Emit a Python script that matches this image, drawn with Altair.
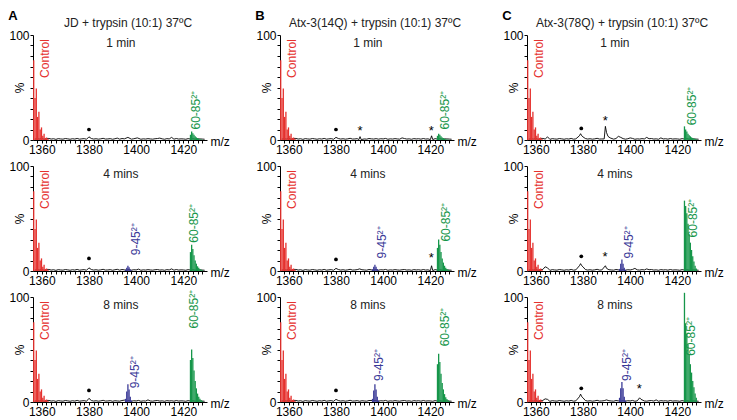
import altair as alt
import pandas as pd

FONT = "Liberation Sans"
RED = "#e5312e"
GREEN = "#16964a"
BLUE = "#3b3a98"

W, H = 174, 105
XDOM = [1356.3, 1430]

COLUMN_TITLES = ["JD + trypsin (10:1) 37ºC",
                 "Atx-3(14Q) + trypsin (10:1) 37ºC",
                 "Atx-3(78Q) + trypsin (10:1) 37ºC"]
LETTERS = ["A", "B", "C"]
TIMES = ["1 min", "4 mins", "8 mins"]
ROW_KEYS = ["1", "4", "8"]
X_TICK_VALUES = list(range(1358, 1430, 2))
Y_TICK_VALUES = [0, 10, 20, 30, 40, 50, 60, 70, 80, 90, 100]

# Control isotope cluster (same in all panels)
RED_MZ = [1356.6, 1357.15, 1357.7, 1358.25, 1358.8, 1359.35, 1359.9, 1360.45, 1361.0, 1361.55, 1362.1, 1362.65]
RED_H = [76, 40, 49, 22, 27, 10, 12, 4, 6, 2, 2.5, 1]

# 60-85 (2+) cluster
GREEN_MZ = [1423.0, 1423.5, 1424.0, 1424.5, 1425.0, 1425.5, 1426.0, 1426.5, 1427.0, 1427.5, 1428.0]
GREEN_H = {
    "A1": [5, 8, 6.5, 5, 3.5, 2.5, 1.8, 1.2, 0.8, 0.5, 0.3],
    "A4": [18, 25, 21, 15, 10, 7, 4.5, 3, 2, 1.2, 0.6],
    "A8": [40, 50, 42, 30, 20, 13, 8, 5, 3, 1.8, 1],
    "B1": [4, 6, 5, 3.5, 2.5, 1.8, 1.2, 0.8, 0.5, 0.3, 0.2],
    "B4": [22, 30, 25, 18, 12, 8, 5, 3, 2, 1.2, 0.6],
    "B8": [36, 46, 38, 27, 18, 12, 7.5, 4.5, 2.8, 1.6, 1],
    "C1": [13, 10, 8, 6, 4.5, 3.5, 2.5, 2, 1.5, 1, 0.6],
    "C4": [67, 62, 55, 45, 35, 27, 20, 14, 9, 5, 2.5],
    "C8": [104, 75, 65, 55, 45, 36, 28, 20, 14, 8, 4],
}

# 9-45 (2+) cluster
BLUE_MZ = [1395.5, 1396.0, 1396.5, 1397.0, 1397.5, 1398.0]
BLUE_H = {
    "A4": [1, 3, 5, 3.5, 1.5, 0.5],
    "A8": [3, 10, 17, 12, 5, 1.5],
    "B4": [1.5, 4, 6, 4, 2, 0.5],
    "B8": [3, 11, 17, 12, 5, 1.5],
    "C4": [2, 7, 11, 7, 3, 1],
    "C8": [4, 13, 19, 13, 5, 1.5],
}

# baseline noise of the black trace, m/z 1357 ... 1429 step 1
NOISE_START = 1357
NOISE_H = [0.8, 1.2, 0.9, 1.4, 0.7, 1.1, 1.5, 0.9, 1.2, 0.6, 1.3, 1.0, 0.8, 1.4, 1.1,
           0.7, 1.2, 0.9, 1.5, 0.8, 1.1, 1.3, 0.7, 1.0, 1.4, 0.9, 1.2, 0.8, 1.1, 1.6,
           0.9, 1.0, 1.3, 0.7, 1.2, 1.0, 0.8, 1.4, 1.1, 0.9, 1.3, 0.8, 1.2, 1.0, 1.5,
           0.7, 1.1, 0.9, 1.3, 1.0, 0.8, 1.2, 1.4, 0.9, 1.1, 0.7, 1.3, 1.0, 1.2, 0.8,
           1.4, 0.9, 1.1, 1.0, 0.7, 1.3, 0.9, 1.2, 0.8, 1.1, 1.0, 0.9, 0.7]

# small black peaks [m/z, %]
BLACK_PEAKS = {
    "A1": [[1380, 3], [1392, 1.8], [1396.5, 2.5], [1400.5, 2], [1410, 1.8], [1415, 2.5]],
    "A4": [[1380, 3], [1392, 1.6], [1401, 1.8], [1415, 2]],
    "A8": [[1380, 3.5], [1395, 1.8], [1405, 2]],
    "B1": [[1380, 2.5], [1389.7, 0.4], [1390.2, 3.2], [1390.7, 0.4], [1408, 2],
           [1420.0, 0.4], [1420.5, 4], [1421.0, 0.4]],
    "B4": [[1380, 2.5], [1390, 2], [1420.0, 0.4], [1420.5, 5], [1421.0, 0.4]],
    "B8": [[1380, 2.5], [1395.5, 1.5]],
    "C1": [[1365, 3], [1378.5, 4], [1379, 6], [1379.5, 4], [1380, 3], [1389.0, 1],
           [1389.5, 13], [1390, 7], [1390.6, 3.5], [1391.5, 2], [1395, 3.5], [1396, 2.5],
           [1400, 2], [1407, 2.5], [1413, 2]],
    "C4": [[1364, 4], [1365, 3], [1378.5, 5], [1379, 7], [1379.5, 5], [1380, 4],
           [1389.5, 5], [1390, 2.5], [1402, 2.5], [1407, 2]],
    "C8": [[1364, 3], [1365, 2.5], [1378.5, 5], [1379, 7.5], [1379.5, 5], [1380, 4],
           [1390, 2], [1404, 4], [1404.6, 2.5], [1411, 2]],
}

DOTS = {"A1": [1380, 10], "A4": [1380, 12], "A8": [1380, 11],
        "B1": [1380, 10], "B4": [1380, 11], "B8": [1380, 11],
        "C1": [1379.3, 11], "C4": [1379.3, 14], "C8": [1379.3, 13]}

STARS = {"B1": [[1390.2, 11], [1420.4, 11]], "B4": [[1420.4, 15]],
         "C1": [[1389.5, 21]], "C4": [[1389.3, 16]], "C8": [[1403.9, 15]]}

CONTROL_LABEL = [1361.3, 96]
TIME_LABEL_POS = [1393.5, 92]
GREEN_LABEL = {"A1": [1425.3, 10], "A4": [1424.5, 27], "A8": [1424.5, 70],
               "B1": [1426.0, 10], "B4": [1426.5, 28], "B8": [1426.0, 53],
               "C1": [1426.0, 14], "C4": [1426.8, 32], "C8": [1425.8, 44]}
BLUE_LABEL = {"A4": [1400.1, 15], "A8": [1399.3, 13], "B4": [1399.7, 12],
              "B8": [1398.4, 20], "C4": [1399.3, 12], "C8": [1398.5, 20]}

GREEN_TEXT = "60-85²⁺"
BLUE_TEXT = "9-45²⁺"

color_scale = alt.Scale(domain=["Control", "60-85", "9-45"], range=[RED, GREEN, BLUE])

xaxis = alt.Axis(values=X_TICK_VALUES, format="d",
                 labelExpr="datum.value % 20 == 0 ? datum.label : ''",
                 tickSize=3, labelPadding=1, labelFontSize=12, labelFont=FONT,
                 labelColor="black", labelFlush=False, grid=False,
                 domainColor="black", tickColor="black",
                 title="m/z", titleX=W + 3, titleY=1, titleAlign="left",
                 titleBaseline="middle", titleFontSize=12, titleFontWeight="normal",
                 titleFont=FONT, titleColor="black")
yaxis = alt.Axis(values=Y_TICK_VALUES,
                 labelExpr="datum.value == 0 || datum.value == 100 ? datum.label : ''",
                 tickSize=3, labelPadding=1, labelFontSize=12, labelFont=FONT,
                 labelColor="black", grid=False, domainColor="black", tickColor="black",
                 title="%", titleAngle=270, titleX=-14, titleY=H / 2,
                 titleAlign="center", titleBaseline="middle", titleFontSize=12,
                 titleFontWeight="normal", titleFont=FONT, titleColor="black")

X = alt.X("mz:Q", scale=alt.Scale(domain=XDOM, nice=False, zero=False), axis=xaxis)
Y = alt.Y("h:Q", scale=alt.Scale(domain=[0, 100], nice=False), axis=yaxis)


def panel(ci, ri):
    key = LETTERS[ci] + ROW_KEYS[ri]
    feats = BLACK_PEAKS[key]
    pts = []
    for i, v in enumerate(NOISE_H):
        mz = NOISE_START + i
        if all(abs(mz - f[0]) > 0.6 for f in feats):
            pts.append([mz, v])
    pts = sorted(pts + [list(f) for f in feats])
    black_df = pd.DataFrame(pts, columns=["mz", "h"])
    black = alt.Chart(black_df).mark_line(color="black", strokeWidth=0.9).encode(x=X, y=Y)

    sticks = []
    for mz, h in zip(RED_MZ, RED_H):
        sticks.append({"mz": mz, "h": h, "s": "Control"})
    for mz, h in zip(GREEN_MZ, GREEN_H[key]):
        sticks.append({"mz": mz, "h": h, "s": "60-85"})
    if key in BLUE_H:
        for mz, h in zip(BLUE_MZ, BLUE_H[key]):
            sticks.append({"mz": mz, "h": h, "s": "9-45"})
    rules = alt.Chart(pd.DataFrame(sticks)).mark_rule(strokeWidth=1.3).encode(
        x=X, y=Y, y2=alt.datum(0),
        color=alt.Color("s:N", scale=color_scale, legend=None))

    control = alt.Chart(pd.DataFrame([{"mz": CONTROL_LABEL[0], "h": CONTROL_LABEL[1], "t": "Control"}])).mark_text(
        angle=270, align="right", baseline="middle", fontSize=12, font=FONT, color=RED
    ).encode(x=X, y=Y, text="t:N")

    lab_rows = [{"mz": GREEN_LABEL[key][0], "h": GREEN_LABEL[key][1], "t": GREEN_TEXT, "s": "60-85"}]
    if key in BLUE_LABEL:
        lab_rows.append({"mz": BLUE_LABEL[key][0], "h": BLUE_LABEL[key][1], "t": BLUE_TEXT, "s": "9-45"})
    peak_labels = alt.Chart(pd.DataFrame(lab_rows)).mark_text(
        angle=270, align="left", baseline="middle", fontSize=12, font=FONT
    ).encode(x=X, y=Y, text="t:N", color=alt.Color("s:N", scale=color_scale, legend=None))

    time = alt.Chart(pd.DataFrame([{"mz": TIME_LABEL_POS[0], "h": TIME_LABEL_POS[1], "t": TIMES[ri]}])).mark_text(
        align="center", baseline="middle", fontSize=12, font=FONT, color="#222222"
    ).encode(x=X, y=Y, text="t:N")

    dot = alt.Chart(pd.DataFrame([{"mz": DOTS[key][0], "h": DOTS[key][1]}])).mark_circle(
        size=14, color="black", opacity=1).encode(x=X, y=Y)

    layers = [black, rules, control, peak_labels, time, dot]
    if key in STARS:
        star_df = pd.DataFrame([{"mz": s[0], "h": s[1], "t": "*"} for s in STARS[key]])
        layers.append(alt.Chart(star_df).mark_text(
            align="center", baseline="middle", fontSize=13, font=FONT, color="black", dy=3
        ).encode(x=X, y=Y, text="t:N"))

    if ri == 0:
        letter = alt.Chart(pd.DataFrame([{"t": LETTERS[ci]}])).mark_text(
            align="center", baseline="middle", fontSize=13, fontWeight="bold", font=FONT, color="black"
        ).encode(x=alt.value(-20), y=alt.value(-19), text="t:N")
        header = alt.Chart(pd.DataFrame([{"t": COLUMN_TITLES[ci]}])).mark_text(
            align="center", baseline="middle", fontSize=12, font=FONT, color="#222222"
        ).encode(x=alt.value(W / 2 + 8), y=alt.value(-12), text="t:N")
        layers += [letter, header]
    return alt.layer(*layers).properties(width=W, height=H)


panels = [panel(ci, ri) for ri in range(3) for ci in range(3)]
chart = alt.concat(*panels, columns=3, spacing={"row": 26, "column": 73}, bounds="flush",
                   padding={"left": 0, "top": 2, "right": 0, "bottom": 0}
                   ).configure_view(stroke=None)

chart.save("out.html", embed_options={"renderer": "svg", "actions": False})
